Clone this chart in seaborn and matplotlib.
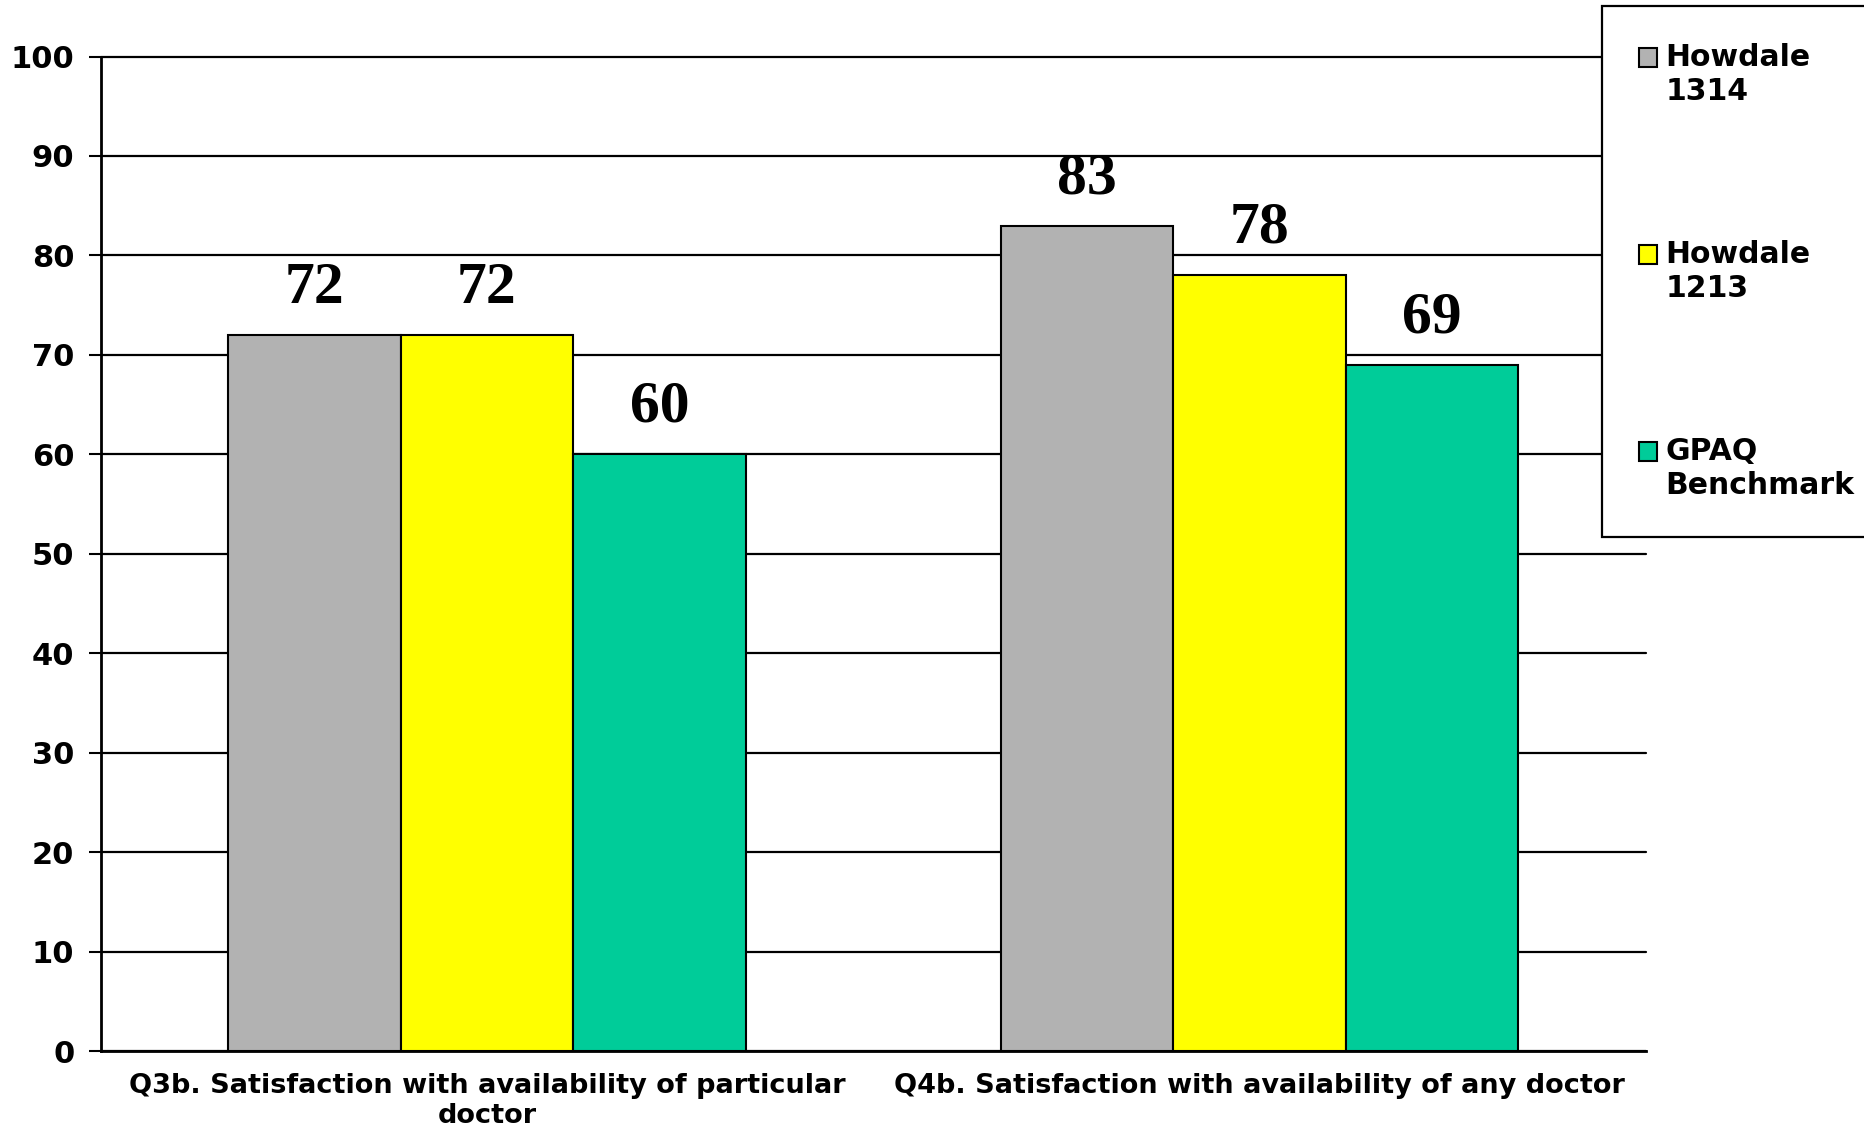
"""
Patient survey: satisfaction with doctor availability, grouped bar chart
"""

import numpy as np
import pandas as pd
import matplotlib
matplotlib.use('Agg')
import matplotlib.pyplot as plt
from matplotlib.patches import Rectangle
from matplotlib.legend_handler import HandlerPatch
import seaborn as sns

# Data
questions = ['Q3b. Satisfaction with availability of particular\ndoctor',
             'Q4b. Satisfaction with availability of any doctor']
series = ['Howdale\n1314', 'Howdale\n1213', 'GPAQ\nBenchmark']
howdale_1314 = [72, 83]
howdale_1213 = [72, 78]
gpaq_benchmark = [60, 69]
colors = ['#B2B2B2', '#FFFF00', '#00CC99']
y_ticks = [0, 10, 20, 30, 40, 50, 60, 70, 80, 90, 100]

df = pd.DataFrame({
    'question': questions * 3,
    'series': np.repeat(series, len(questions)),
    'score': howdale_1314 + howdale_1213 + gpaq_benchmark,
})

sns.set_style('white')
plt.rcParams['font.family'] = ['DejaVu Sans']
plt.rcParams['text.color'] = 'black'
plt.rcParams['xtick.color'] = 'black'
plt.rcParams['ytick.color'] = 'black'

fig = plt.figure(figsize=(18.64, 11.31), dpi=100)
ax = fig.add_axes([0.054, 0.0707, 0.829, 0.8793])

sns.barplot(data=df, x='question', y='score', hue='series', order=questions,
            hue_order=series, palette=colors, width=0.67, saturation=1,
            edgecolor='black', linewidth=1.5, errorbar=None, ax=ax, zorder=3)

for cont in ax.containers:
    ax.bar_label(cont, padding=14, fontsize=43, fontweight='bold',
                 family='Liberation Serif', color='black')

# Axis setup
ax.set_ylim(0, 100)
ax.set_xlim(-0.5, 1.5)
ax.set_yticks(y_ticks)
ax.set_yticklabels([str(t) for t in y_ticks], fontsize=22, fontweight='bold')
ax.yaxis.grid(True, color='black', linewidth=1.6, zorder=0)
for gl in ax.get_ygridlines():
    gl.set_clip_on(False)
ax.set_axisbelow(True)
ax.set_xlabel('')
ax.set_ylabel('')

ax.set_xticks([-0.5, 0.5, 1.5])
ax.set_xticklabels([])
ax.set_xticks([0, 1], minor=True)
ax.set_xticklabels(questions, minor=True, fontsize=19.5, fontweight='bold')
ax.tick_params(axis='x', which='major', length=9, width=1.5, direction='out')
ax.tick_params(axis='x', which='minor', length=0, pad=16)
ax.tick_params(axis='y', length=9, width=1.5, direction='out', pad=10, left=True)

for side in ['top', 'right']:
    ax.spines[side].set_visible(False)
for side in ['left', 'bottom']:
    ax.spines[side].set_color('black')
    ax.spines[side].set_linewidth(2)


# Legend: square sits beside the first line of each label
def top_square(legend, orig_handle, xdescent, ydescent, width, height, fontsize):
    return Rectangle((-xdescent, -ydescent + 0.6 * fontsize), width, height)


handles, labels = ax.get_legend_handles_labels()
ax.get_legend().remove()
leg = fig.legend(handles, labels, loc='upper left', bbox_to_anchor=(0.8595, 0.995),
                 frameon=True, fancybox=False, edgecolor='black', framealpha=1,
                 prop={'size': 21.5, 'weight': 'bold'}, handlelength=0.58, handleheight=0.58,
                 handletextpad=0.3, labelspacing=4.5, borderpad=1.25, borderaxespad=0,
                 handler_map={Rectangle: HandlerPatch(patch_func=top_square)})
leg.get_frame().set_linewidth(1.6)

plt.savefig('out.png', dpi=100)
